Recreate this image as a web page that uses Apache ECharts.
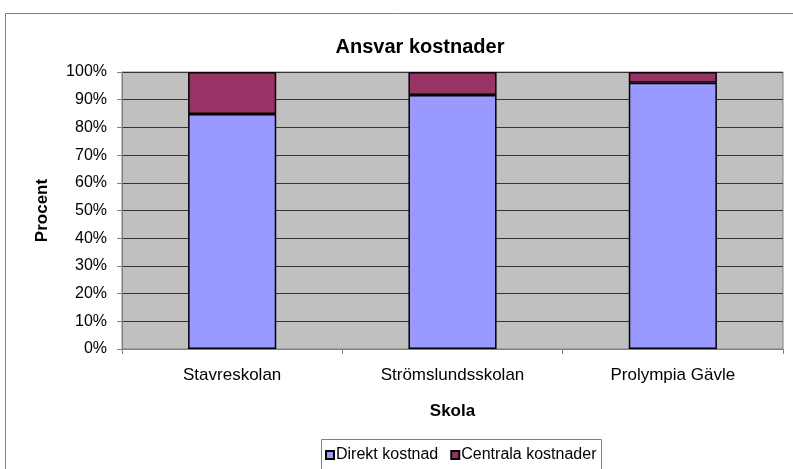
<!DOCTYPE html>
<html>
<head>
<meta charset="utf-8">
<script src="https://cdn.jsdelivr.net/npm/echarts@6/dist/echarts.min.js"></script>
<style>
html,body{margin:0;padding:0;background:#fff;}
#chart{width:793px;height:469px;}
</style>
</head>
<body>
<div id="chart"></div>
<script>
var skolor = ["Stavreskolan", "Strömslundsskolan", "Prolympia Gävle"];
var direkt = [84.8, 91.7, 96.1];
var centrala = [15.2, 8.3, 3.9];
var yTicks = [0, 10, 20, 30, 40, 50, 60, 70, 80, 90, 100];

var c = echarts.init(document.getElementById("chart"));
var font = "Liberation Sans, Arial, sans-serif";
var opt = {
    animation: false,
    title: {
        text: "Ansvar kostnader",
        left: 415,
        textAlign: "center",
        top: 32,
        textStyle: { fontFamily: font, fontSize: 20, fontWeight: "bold", color: "#000" }
    },
    graphic: [{
        type: "rect",
        shape: { x: 5.5, y: 13.5, width: 820, height: 500 },
        style: { fill: "none", stroke: "#808080", lineWidth: 1 },
        z: -10
    }, {
        type: "rect",
        shape: { x: 321.5, y: 439.5, width: 280, height: 40 },
        style: { fill: "#fff", stroke: "#808080", lineWidth: 1 },
        z: -5
    }],
    legend: {
        data: ["Direkt kostnad", "Centrala kostnader"],
        left: 325,
        top: 447,
        padding: [0, 0, 0, 0],
        itemWidth: 8,
        itemHeight: 8,
        itemGap: 12,
        icon: "rect",
        textStyle: { fontFamily: font, fontSize: 16, color: "#000", padding: [0, 0, 0, -3] }
    },
    grid: {
        left: 122,
        right: 10,
        top: 72,
        bottom: 120,
        show: true,
        backgroundColor: "#C0C0C0",
        borderColor: "#808080",
        borderWidth: 1
    },
    xAxis: {
        type: "category",
        data: skolor,
        name: "Skola",
        nameLocation: "middle",
        nameGap: 54,
        nameTextStyle: { fontFamily: font, fontSize: 17, fontWeight: "bold", color: "#000" },
        axisLine: { lineStyle: { color: "#808080" } },
        axisTick: { show: true, length: 5, lineStyle: { color: "#808080" } },
        axisLabel: { fontFamily: font, fontSize: 17, color: "#000", margin: 18 }
    },
    yAxis: {
        type: "value",
        min: 0,
        max: 100,
        interval: 10,
        name: "Procent",
        nameLocation: "middle",
        nameGap: 71,
        nameTextStyle: { fontFamily: font, fontSize: 17, fontWeight: "bold", color: "#000" },
        axisLine: { show: true, lineStyle: { color: "#808080" } },
        axisTick: { show: true, length: 5, lineStyle: { color: "#808080" } },
        axisLabel: {
            fontFamily: font, fontSize: 16, color: "#000", margin: 15,
            formatter: function (v) { return yTicks.indexOf(v) >= 0 ? v + "%" : ""; }
        },
        splitLine: { lineStyle: { color: "#333", width: 1 } }
    },
    series: [{
        name: "Direkt kostnad",
        type: "bar",
        stack: "a",
        barWidth: "40%",
        data: direkt,
        itemStyle: { color: "#9999FF", borderColor: "#000", borderWidth: 1.5 }
    }, {
        name: "Centrala kostnader",
        type: "bar",
        stack: "a",
        data: centrala,
        itemStyle: { color: "#993366", borderColor: "#000", borderWidth: 1.5 }
    }]
};
c.setOption(opt);
</script>
</body>
</html>
